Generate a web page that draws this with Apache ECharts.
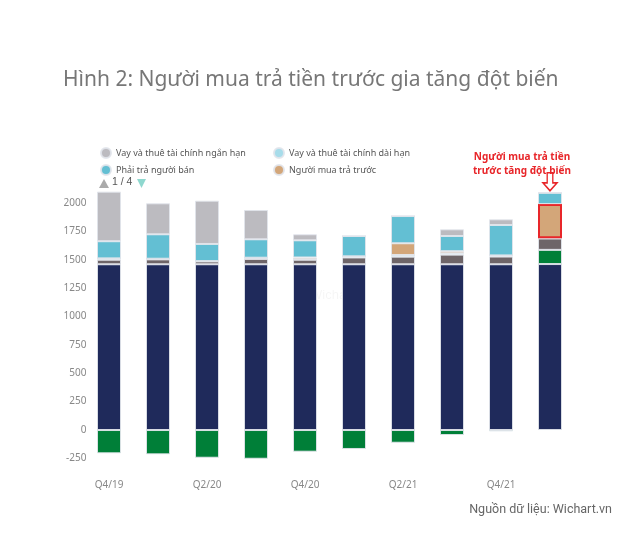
<!DOCTYPE html>
<html>
<head>
<meta charset="utf-8">
<script src="https://cdn.jsdelivr.net/npm/echarts@6/dist/echarts.min.js"></script>
<style>html,body{margin:0;padding:0;background:#fff}#c{width:640px;height:540px}</style>
</head>
<body>
<div id="c"></div>
<script>
const categories = ['Q4/19','Q1/20','Q2/20','Q3/20','Q4/20','Q1/21','Q2/21','Q3/21','Q4/21','Q1/22'];
const vonGop      = [1460,1460,1460,1460,1460,1460,1460,1460,1460,1462];
const loiNhuan    = [-205,-214,-244,-253,-191,-167,-112,-44,-12,125];
const noKhac      = [40,43,25,47,40,60,67,85,68,100];
const vayDaiHan   = [12,6,3,11,5,10,15,12,10,3];
const nguoiMua    = [0,0,0,0,15,0,103,18,0,300];
const phaiTra     = [151,215,151,162,151,179,240,134,268,100];
const vayNganHan  = [437,273,381,258,53,0,0,59,50,0];
const yTicks = {min:-250, max:2250, interval:250};

const N_NGAN = 'Vay và thuê tài chính ngắn hạn';
const N_DAI = 'Vay và thuê tài chính dài hạn';
const N_PHAI = 'Phải trả người bán';
const N_MUA = 'Người mua trả trước';
const N_VON = 'Vốn góp của chủ sở hữu';
const N_LN = 'Lợi nhuận sau thuế chưa phân phối';
const N_KHAC = 'Nợ phải trả khác';

const border = {borderColor:'rgba(225,228,235,0.9)', borderWidth:1};
function bar(name, data, color, extra){
  return Object.assign({
    name, type:'bar', stack:'s', data, barWidth:24,
    itemStyle:Object.assign({color}, border),
    emphasis:{disabled:true}
  }, extra||{});
}
const muaData = nguoiMua.map((v,i)=> i===categories.length-1
  ? {value:v, itemStyle:{borderColor:'#e8262a', borderWidth:2}} : v);

const legendCommon = {type:'plain', orient:'vertical', itemGap:5, icon:'circle',
  itemWidth:10, itemHeight:10, textStyle:{fontSize:9, color:'#555', fontFamily:'Noto Sans'}};

const chart = echarts.init(document.getElementById('c'));
chart.setOption({
  animation:false,
  textStyle:{fontFamily:'Noto Sans'},
  title:{text:'Hình 2: Người mua trả tiền trước gia tăng đột biến', left:58, top:65,
    textStyle:{fontSize:21, fontWeight:'normal', color:'#777', fontFamily:'Noto Sans'}},
  legend:[
    Object.assign({left:95, top:142, data:[N_NGAN, N_PHAI]}, legendCommon),
    Object.assign({left:268, top:142, data:[N_DAI, N_MUA]}, legendCommon)
  ],
  grid:{left:84.5, right:65.5, top:174.6, bottom:81.6, containLabel:false},
  xAxis:{type:'category', data:categories,
    axisLine:{show:false}, axisTick:{show:false},
    axisLabel:{interval:1, color:'#888', fontSize:10, margin:22}},
  yAxis:{type:'value', min:yTicks.min, max:yTicks.max, interval:yTicks.interval,
    axisLine:{show:false}, axisTick:{show:false}, splitLine:{show:false},
    axisLabel:{color:'#888', fontSize:10, showMaxLabel:false, margin:-2,
      formatter:v=>String(v)}},
  graphic:[
    {type:'polygon', shape:{points:[[99,188],[104,179],[109,188]]}, style:{fill:'#aaa'}},
    {type:'text', left:112, top:177, style:{text:'1 / 4', fontSize:10.5, fill:'#555'}},
    {type:'polygon', shape:{points:[[137,179],[146,179],[141.5,188]]}, style:{fill:'#8fd8cf'}},
    {type:'text', left:310, top:289, style:{text:'Wichart', fontSize:13, fill:'rgba(0,0,0,0.04)'}},
    {type:'text', right:28, top:503, style:{text:'Nguồn dữ liệu: Wichart.vn', fontSize:12.5, fill:'#666', fontFamily:'Roboto'}}
  ],
  series:[
    bar(N_VON, vonGop, '#1f2a5b'),
    bar(N_LN, loiNhuan, '#007f38'),
    bar(N_KHAC, noKhac, '#6e6568'),
    bar(N_DAI, vayDaiHan, '#a7dcea'),
    bar(N_MUA, muaData, '#d3a679'),
    bar(N_PHAI, phaiTra, '#63bfd3', {
      markPoint:{
        symbol:'path://M3,0 L7,0 L7,9 L10,9 L5,16 L0,9 L3,9 Z',
        symbolSize:[14,18], symbolOffset:[0,-11],
        itemStyle:{color:'#fff', borderColor:'#e8262a', borderWidth:1.5},
        label:{show:true, position:'top', distance:2, offset:[-28,8],
          formatter:'Người mua trả tiền\ntrước tăng đột biến',
          color:'#e8262a', fontWeight:'bold', fontSize:10, lineHeight:14, align:'center'},
        data:[{coord:[categories.length-1, vonGop[9]+loiNhuan[9]+noKhac[9]+vayDaiHan[9]+nguoiMua[9]+phaiTra[9]]}]
      }
    }),
    bar(N_NGAN, vayNganHan, '#bcbbc0')
  ]
});
</script>
</body>
</html>
